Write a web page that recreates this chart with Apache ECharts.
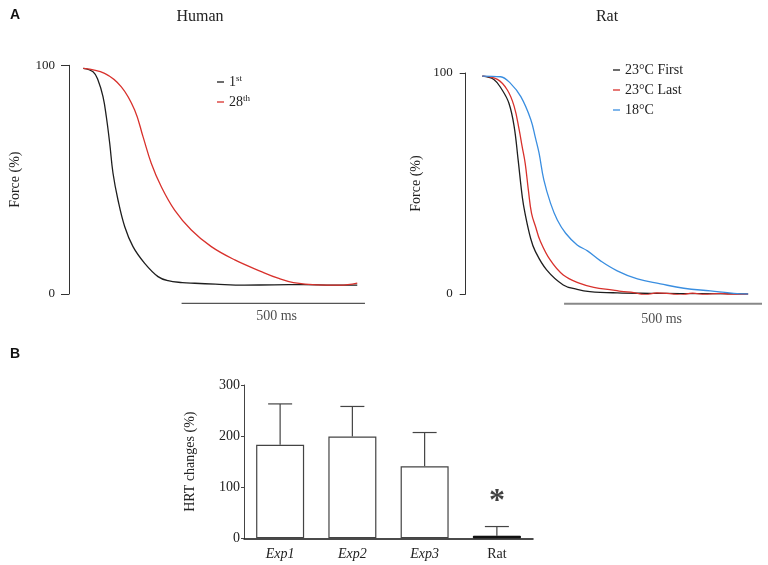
<!DOCTYPE html>
<html><head><meta charset="utf-8">
<script src="https://cdn.jsdelivr.net/npm/echarts@6/dist/echarts.min.js"></script>
<style>html,body{margin:0;padding:0;background:#fff}#c{width:768px;height:565px}</style>
</head><body><div id="c"></div>
<script>
// ---------- data ----------
// Human panel (time in ms from relaxation onset, force in %)
const humanT1 = [0,26.5,40,53.7,62.8,72,81,94.6,113,135.5,167.4,203.7,231,270,304,360,440,520,600,680,747];
const humanF1 = [98.7,97.2,93.6,86.3,77.5,65.9,52.8,41.1,29.4,20.7,13.4,7.6,5.8,5.0,4.7,4.3,3.9,4.0,4.1,3.9,3.9];
const humanT2 = [0,58,103.7,140,162.8,185.5,212.7,249,294.5,349,413,485.4,531,573,636,700,747];
const humanF2 = [98.7,96.5,90.6,80.5,68.8,57.1,46.9,36.7,28,20.7,14.9,9.8,6.9,5.0,4.0,3.9,4.8];
const humanNames = ['1st','28th'];
// Rat panel
const ratT1 = [0,29,50,67,80,90,101,107.6,122,133,162,204,239,271,340,424,500,600,670];
const ratF1 = [98.6,97.1,92.3,86.3,76,61,43.5,36.5,25,19.5,10.9,4.1,2.1,1.1,0.5,0.3,0.2,0.1,0];
const ratT2 = [0,38,63,80,93,100,108,116,124,135,145,171,204,246,281,330,350,382,410,440,466,500,530,560,600,630,670];
const ratF2 = [98.6,97.1,92.3,85,74.2,67,59.1,47,36.5,30,24.4,15.4,8.6,4.8,3.0,1.8,1.2,0.6,-0.3,0.5,0.3,-0.4,0.4,-0.2,0.3,-0.3,0];
const ratT3 = [0,46,71,97,122,134,143,155,172,189,210,239,265,298,340,391,449,508,575,634,670];
const ratF3 = [98.6,98.3,95.3,89.3,79,70.5,63.7,51.6,41,33.5,27.5,22.2,19.5,15,10.5,6.8,4.6,2.6,1.4,0.3,0];
const ratNames = ['23°C First','23°C Last','18°C'];
// Scale bars (ms)
const humanScaleBar = [268, 768];
const ratScaleBar = [206, 706];
const scaleLabel = '500 ms';
// Bar panel
const barCategories = ['Exp1','Exp2','Exp3','Rat'];
const barValues = [183, 199, 141, 5];
const barErrors = [263, 258, 207, 23];
const yTicksForce = [0, 100];
const yTicksHRT = [0, 100, 200, 300];

// ---------- helpers ----------
const zip = (t, f) => t.map((x, i) => [x, f[i]]);
const SERIF = 'Liberation Serif';
const C_BLACK = '#1e1e1e', C_RED = '#d8312c', C_BLUE = '#3a8ee0';
const supFmt = n => n.replace(/^(\d+)(st|th)$/, '$1{sup|$2}');

const forceYAxis = (gi, gap, tick, margin) => ({
  gridIndex: gi, type: 'value', min: yTicksForce[0], max: yTicksForce[yTicksForce.length-1], interval: 100,
  axisLine: {show: true, onZero: false, lineStyle: {color: '#333', width: 1}},
  axisTick: {show: true, length: tick, lineStyle: {color: '#333'}},
  axisLabel: {fontFamily: SERIF, fontSize: 13, color: '#222', margin},
  splitLine: {show: false},
  name: 'Force (%)', nameLocation: 'middle', nameRotate: 90, nameGap: gap,
  nameTextStyle: {fontFamily: SERIF, fontSize: 14, color: '#222'}
});

const line = (name, data, color, xi) => ({
  name, type: 'line', xAxisIndex: xi, yAxisIndex: xi, data,
  showSymbol: false, smooth: 0.4, lineStyle: {color, width: 1.3}, itemStyle: {color}
});

const scaleBarSeries = (xi, bar, y, color, w) => ({
  type: 'line', xAxisIndex: xi, yAxisIndex: xi, clip: false, silent: true,
  data: [[bar[0], y], [bar[1], y]], showSymbol: false,
  lineStyle: {color, width: w}
});
const scaleLabelSeries = (xi, x, y) => ({
  type: 'scatter', xAxisIndex: xi, yAxisIndex: xi, clip: false, silent: true,
  data: [[x, y]], symbolSize: 1, itemStyle: {color: 'rgba(0,0,0,0)'},
  label: {show: true, position: 'inside', formatter: scaleLabel, fontFamily: SERIF, fontSize: 14, color: '#222'}
});

const legendStyle = {
  orient: 'vertical', icon: 'rect', itemWidth: 7, itemHeight: 1.3, itemGap: 4, padding: 0,
  textStyle: {fontFamily: SERIF, fontSize: 14, color: '#222', lineHeight: 16,
    rich: {sup: {fontFamily: SERIF, fontSize: 9, color: '#222', verticalAlign: 'top', lineHeight: 16}}}
};

const option = {
  animation: false,
  backgroundColor: '#fff',
  title: [
    {text: 'A', left: 5, top: 3, textStyle: {fontFamily: 'Liberation Sans', fontWeight: 'bold', fontSize: 14, color: '#111'}},
    {text: 'B', left: 5, top: 342, textStyle: {fontFamily: 'Liberation Sans', fontWeight: 'bold', fontSize: 14, color: '#111'}},
    {text: 'Human', left: 195, top: 4, textAlign: 'center', textStyle: {fontFamily: SERIF, fontWeight: 'normal', fontSize: 16, color: '#222'}},
    {text: 'Rat', left: 602, top: 4, textAlign: 'center', textStyle: {fontFamily: SERIF, fontWeight: 'normal', fontSize: 16, color: '#222'}}
  ],
  grid: [
    {left: 69, top: 65.3, width: 307.7, height: 228.7},
    {left: 465.7, top: 73, width: 294.3, height: 221},
    {left: 244, top: 385, width: 289, height: 153.3}
  ],
  xAxis: [
    {gridIndex: 0, type: 'value', min: -39, max: 800, show: false},
    {gridIndex: 1, type: 'value', min: -42, max: 700, show: false},
    {gridIndex: 2, type: 'category', data: barCategories,
      axisLine: {show: true, lineStyle: {color: '#111', width: 1.5}},
      axisTick: {show: false},
      axisLabel: {fontFamily: SERIF, fontSize: 14, color: '#222', margin: 9,
        formatter: v => v.startsWith('Exp') ? '{i|' + v + '}' : v,
        rich: {i: {fontFamily: SERIF, fontStyle: 'italic', fontSize: 14, color: '#222'}}}
    }
  ],
  yAxis: [
    forceYAxis(0, 47, 8, 14),
    forceYAxis(1, 42, 6, 13),
    {gridIndex: 2, type: 'value', min: yTicksHRT[0], max: yTicksHRT[yTicksHRT.length-1], interval: 100,
      axisLine: {show: true, lineStyle: {color: '#444', width: 1}},
      axisTick: {show: true, length: 3, lineStyle: {color: '#444'}},
      axisLabel: {fontFamily: SERIF, fontSize: 14, color: '#222', margin: 4},
      splitLine: {show: false},
      name: 'HRT changes (%)', nameLocation: 'middle', nameRotate: 90, nameGap: 47,
      nameTextStyle: {fontFamily: SERIF, fontSize: 14, color: '#222'}}
  ],
  legend: [
    Object.assign({}, legendStyle, {data: humanNames, left: 217, top: 74, formatter: supFmt}),
    Object.assign({}, legendStyle, {data: ratNames, left: 613, top: 62})
  ],
  series: [
    line(humanNames[0], zip(humanT1, humanF1), C_BLACK, 0),
    line(humanNames[1], zip(humanT2, humanF2), C_RED, 0),
    scaleBarSeries(0, humanScaleBar, -4.1, '#555', 1.2),
    scaleLabelSeries(0, 527, -9.8),
    line(ratNames[0], zip(ratT1, ratF1), C_BLACK, 1),
    line(ratNames[1], zip(ratT2, ratF2), C_RED, 1),
    line(ratNames[2], zip(ratT3, ratF3), C_BLUE, 1),
    scaleBarSeries(1, ratScaleBar, -4.4, '#888', 2),
    scaleLabelSeries(1, 452, -11.6),
    {
      type: 'bar', xAxisIndex: 2, yAxisIndex: 2, barWidth: 48,
      data: barValues.map((v, i) => barCategories[i] === 'Rat'
        ? {value: v, itemStyle: {color: '#000', borderColor: '#000', borderWidth: 1}}
        : v),
      itemStyle: {color: '#fff', borderColor: '#444', borderWidth: 1.2}
    },
    {
      type: 'custom', xAxisIndex: 2, yAxisIndex: 2,
      data: barValues.map((v, i) => [i, v, barErrors[i]]),
      renderItem: (params, api) => {
        const p1 = api.coord([api.value(0), api.value(1)]);
        const p2 = api.coord([api.value(0), api.value(2)]);
        const half = 12;
        const st = {stroke: '#444', lineWidth: 1.2};
        return {type: 'group', children: [
          {type: 'line', shape: {x1: p1[0], y1: p1[1], x2: p2[0], y2: p2[1]}, style: st},
          {type: 'line', shape: {x1: p2[0] - half, y1: p2[1], x2: p2[0] + half, y2: p2[1]}, style: st}
        ]};
      }
    },
    {
      type: 'scatter', xAxisIndex: 2, yAxisIndex: 2, silent: true,
      data: [[3, 72]], symbolSize: 1, itemStyle: {color: 'rgba(0,0,0,0)'},
      label: {show: true, position: 'inside', formatter: '*', fontFamily: SERIF, fontWeight: 'bold', fontSize: 32, color: '#111'}
    }
  ]
};
echarts.init(document.getElementById('c'), null, {renderer: 'canvas'}).setOption(option);
</script></body></html>
